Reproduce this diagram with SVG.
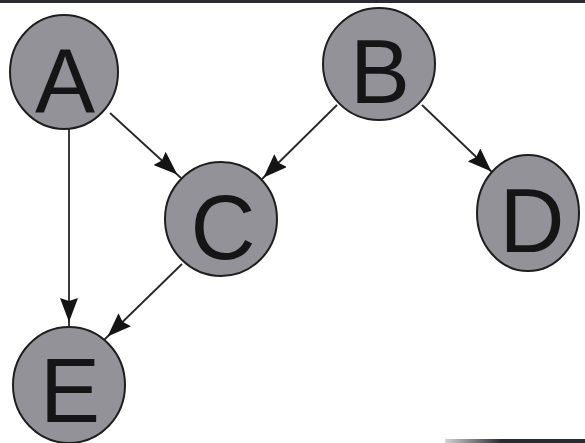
<svg xmlns="http://www.w3.org/2000/svg" width="585" height="443" viewBox="0 0 585 443">
  <style>
    .node ellipse { fill: #949299; stroke: #1e1e1e; stroke-width: 2; }
    .node text { font-family: "Liberation Sans", Arial, sans-serif; font-size: 90px; fill: #151515; text-anchor: middle; }
    .edge { stroke: #262626; stroke-width: 1.8; fill: none; marker-end: url(#arrow); }
    .frame { stroke: #2b2b33; stroke-width: 3; }
  </style>
  <defs>
    <!-- dart-shaped head; the tip sits a few px short of the line end -->
    <marker id="arrow" viewBox="0 0 30 18" refX="29" refY="9" markerWidth="30" markerHeight="18" markerUnits="userSpaceOnUse" orient="auto">
      <path d="M0,0 L24,9 L0,18 L3,9 Z" fill="#141414"/>
    </marker>
    <linearGradient id="fade" x1="0" y1="0" x2="1" y2="0">
      <stop offset="0" stop-color="#2b2b33" stop-opacity="0.2"/>
      <stop offset="0.4" stop-color="#2b2b33"/>
    </linearGradient>
  </defs>

  <rect x="0" y="0" width="585" height="443" fill="#ffffff"/>
  <line class="frame" x1="0" y1="1.5" x2="585" y2="1.5"/>
  <rect x="445" y="439" width="140" height="4" fill="url(#fade)"/>

  <g id="connectors">
    <line class="edge" x1="110" y1="113" x2="181" y2="178"/>
    <line class="edge" x1="337" y1="105" x2="260" y2="181"/>
    <line class="edge" x1="422" y1="105" x2="495" y2="175"/>
    <line class="edge" x1="69" y1="128" x2="69" y2="327"/>
    <line class="edge" x1="182" y1="264" x2="104" y2="340"/>
  </g>

  <g id="node-A" class="node">
    <ellipse cx="64" cy="72" rx="54" ry="57"/>
    <text x="65" y="112">A</text>
  </g>
  <g id="node-B" class="node">
    <ellipse cx="379" cy="64" rx="56" ry="56"/>
    <text x="380" y="103">B</text>
  </g>
  <g id="node-C" class="node">
    <ellipse cx="221" cy="219" rx="56" ry="57"/>
    <text x="223" y="259">C</text>
  </g>
  <g id="node-D" class="node">
    <ellipse cx="528" cy="213" rx="51" ry="58"/>
    <text x="532" y="252">D</text>
  </g>
  <g id="node-E" class="node">
    <ellipse cx="69" cy="385" rx="56" ry="58"/>
    <text x="70" y="422">E</text>
  </g>
</svg>
